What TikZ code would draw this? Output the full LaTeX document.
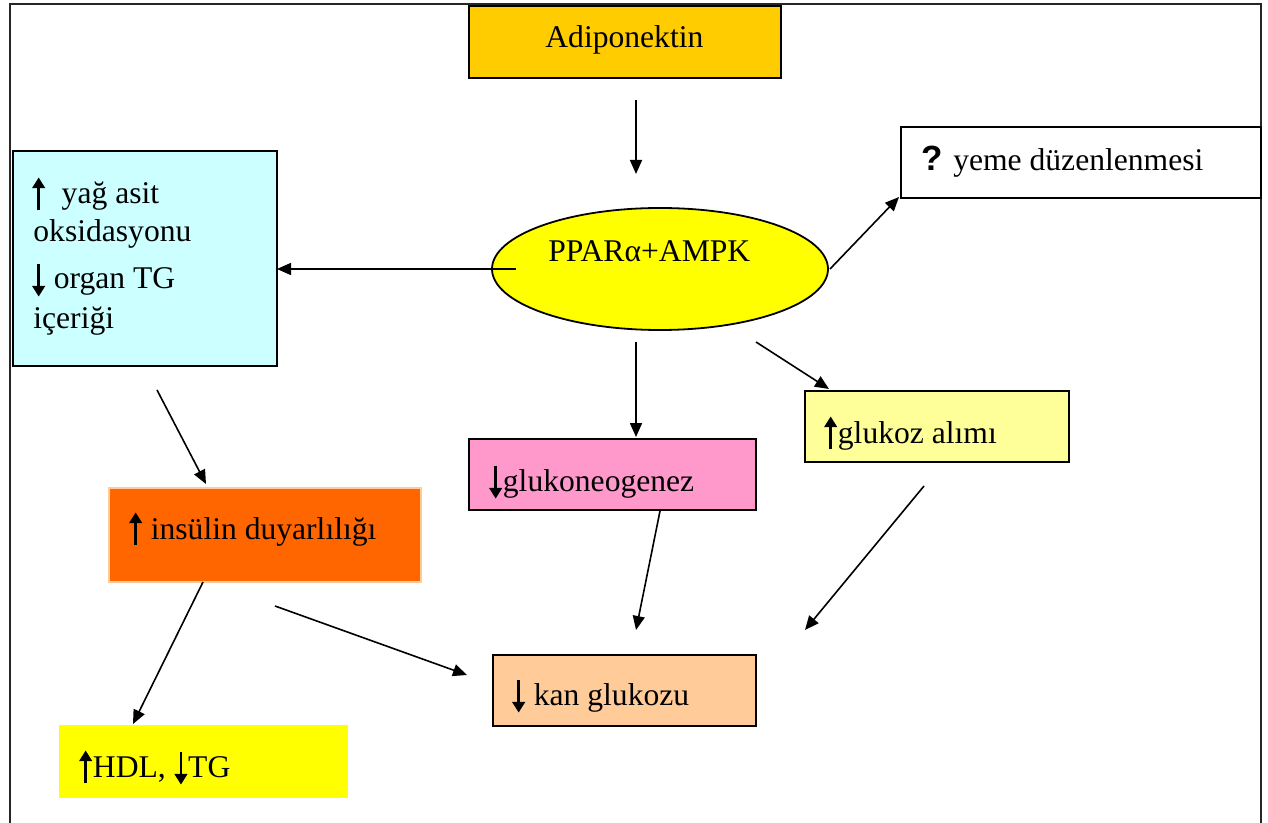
\documentclass[tikz,border=0pt]{standalone}
\usepackage{fontspec}
\setmainfont{Liberation Serif}
\newfontfamily\qfont{Liberation Sans}
\usetikzlibrary{arrows.meta,shapes.geometric}
\newcommand{\uparr}{\tikz[baseline=0pt,x=1em,y=1em]{\path (-0.23,0) (0.23,0);\draw[line width=0.08em,-{Triangle[length=0.34em,width=0.4em]}] (0,-0.2) -- (0,0.84);}}
\newcommand{\dnarr}{\tikz[baseline=0pt,x=1em,y=1em]{\path (-0.23,0) (0.23,0);\draw[line width=0.08em,-{Triangle[length=0.34em,width=0.4em]}] (0,0.8) -- (0,-0.24);}}
\definecolor{cAdipo}{HTML}{FFCC00}
\definecolor{cCyan}{HTML}{CCFFFF}
\definecolor{cIns}{HTML}{FF6600}
\definecolor{cInsB}{HTML}{FFCC99}
\definecolor{cPink}{HTML}{FF99CC}
\definecolor{cLYel}{HTML}{FFFF99}
\definecolor{cKan}{HTML}{FFCC99}
\definecolor{cYel}{HTML}{FFFF00}
\tikzset{
  box/.style={draw=black, line width=1pt, inner sep=0pt, anchor=north west},
  lbl/.style={anchor=base west, inner sep=0pt, font=\fontsize{15.8}{19}\selectfont},
  conn/.style={line width=0.8pt, -{Triangle[length=7pt,width=6pt]}}
}
\begin{document}
\begin{tikzpicture}[x=0.5pt,y=-0.5pt]
\useasboundingbox (0,0) rectangle (1268,823);
% outer frame
\draw[line width=1.3pt, black!85] (10,840) -- (10,4) -- (1261,4) -- (1261,840);
% boxes
\node[box, fill=cAdipo, minimum width=156pt, minimum height=36pt] (adipo) at (468,5) {};
\node[box, fill=white, minimum width=180pt, minimum height=35.5pt] (yeme) at (900,126) {};
\node[box, fill=cCyan, minimum width=132pt, minimum height=107.5pt] (yag) at (12,150) {};
\node[box, draw=cInsB, line width=0.8pt, fill=cIns, minimum width=156pt, minimum height=47pt] (ins) at (108,487) {};
\node[box, fill=cPink, minimum width=143.5pt, minimum height=35.5pt] (gneo) at (468,438) {};
\node[box, fill=cLYel, minimum width=132pt, minimum height=35.5pt] (alim) at (804,390) {};
\node[box, fill=cKan, minimum width=131.5pt, minimum height=35.5pt] (kan) at (492,654) {};
\node[box, draw=none, fill=cYel, minimum width=144.5pt, minimum height=36.5pt] (hdl) at (58,724) {};
\node[ellipse, draw=black, line width=0.9pt, fill=cYel, minimum width=168pt, minimum height=61pt, inner sep=0pt] (ppar) at (660,269) {};
% texts
\node[lbl] (tAdipo) at (545,48) {Adiponektin};
\node[lbl] (tYeme) at (921,171) {{\qfont\bfseries\fontsize{17.5}{19}\selectfont ?} yeme düzenlenmesi};
\node[lbl] (tPpar) at (548,262) {PPARα+AMPK};
\node[lbl] (tYag1) at (31,204) {\uparr\ \ yağ asit};
\node[lbl] (tYag2) at (33,242) {oksidasyonu};
\node[lbl] (tYag3) at (31,289) {\dnarr\ organ TG};
\node[lbl] (tYag4) at (33,329) {içeriği};
\node[lbl] (tGneo) at (488,491) {\dnarr glukoneogenez};
\node[lbl] (tAlim) at (823,443) {\uparr glukoz alımı};
\node[lbl] (tIns) at (128,539) {\uparr\ insülin duyarlılığı};
\node[lbl] (tKan) at (511,705) {\dnarr\ kan glukozu};
\node[lbl] (tHdl) at (78,777) {\uparr HDL, \dnarr TG};
% connector end points
\coordinate (a1s) at (636,100); \coordinate (a1e) at (636,174);
\coordinate (a2s) at (516,269); \coordinate (a2e) at (277,269);
\coordinate (a3s) at (830,269); \coordinate (a3e) at (899,197);
\coordinate (a4s) at (636,342); \coordinate (a4e) at (636,437);
\coordinate (a5s) at (756,342); \coordinate (a5e) at (829,389);
\coordinate (a6s) at (157,390); \coordinate (a6e) at (206,484);
\coordinate (a7s) at (203,582); \coordinate (a7e) at (133,724);
\coordinate (a8s) at (275,606); \coordinate (a8e) at (467,675);
\coordinate (a9s) at (660,511); \coordinate (a9e) at (636,630);
\coordinate (a10s) at (924,486); \coordinate (a10e) at (805,630);
% connectors
\draw[conn] (a1s) -- (a1e);
\draw[conn] (a2s) -- (a2e);
\draw[conn] (a3s) -- (a3e);
\draw[conn] (a4s) -- (a4e);
\draw[conn] (a5s) -- (a5e);
\draw[conn] (a6s) -- (a6e);
\draw[conn] (a7s) -- (a7e);
\draw[conn] (a8s) -- (a8e);
\draw[conn] (a9s) -- (a9e);
\draw[conn] (a10s) -- (a10e);
\end{tikzpicture}
\end{document}
